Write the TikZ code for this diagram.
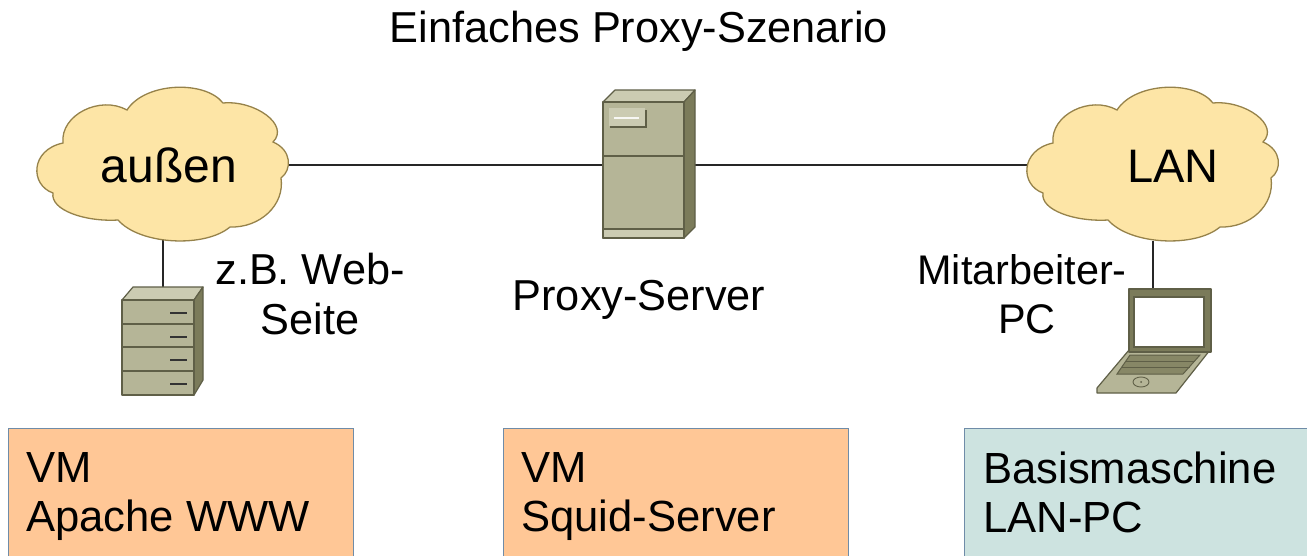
\documentclass[tikz,border=0pt]{standalone}
\usepackage{fontspec}
\setmainfont{Liberation Sans}
\definecolor{cloudfill}{HTML}{FDE5A6}
\definecolor{cloudline}{HTML}{96824A}
\definecolor{hwfront}{HTML}{B5B597}
\definecolor{hwtop}{HTML}{CBCBB2}
\definecolor{hwside}{HTML}{7B7B5A}
\definecolor{hwline}{HTML}{5F5F47}
\definecolor{vmfill}{HTML}{FFC796}
\definecolor{basefill}{HTML}{CDE3E0}
\definecolor{boxline}{HTML}{6F8CA8}
\tikzset{
  x=1pt,y=-1pt,
  cloudshape/.style={fill=cloudfill,draw=cloudline,line width=1.3pt},
  hw/.style={draw=hwline,line width=1.2pt,line join=round},
  link/.style={draw=black!85,line width=1.2pt},
  lbl/.style={font=\fontsize{43.3}{49.5}\selectfont,inner sep=0pt,align=center},
  pclblstyle/.style={font=\fontsize{41.4}{49.5}\selectfont,inner sep=0pt,align=center},
  cloudlbl/.style={font=\fontsize{48}{50}\selectfont,inner sep=0pt},
  boxlbl/.style={font=\fontsize{43.6}{49}\selectfont,inner sep=0pt,align=left,anchor=north west},
  hostbox/.style={draw=boxline,line width=1.2pt,rectangle,anchor=north west,inner sep=0pt,minimum width=345pt,minimum height=200pt},
  pics/cloud/.style={code={
    \path[cloudshape] (63,143) .. controls (60,115) and (100,95) .. (127,110)
      .. controls (145,82) and (205,80) .. (223,103)
      .. controls (255,100) and (290,125) .. (273,142)
      .. controls (292,150) and (292,170) .. (281,178)
      .. controls (285,205) and (260,228) .. (230,227)
      .. controls (205,248) and (140,245) .. (118,220)
      .. controls (85,222) and (50,210) .. (53,193)
      .. controls (30,185) and (30,150) .. (63,143) -- cycle;
  }}
}
\begin{document}
\begin{tikzpicture}
\path[use as bounding box,clip] (0,0) rectangle (1307,555);
\fill[white] (0,0) rectangle (1307,555);

% anchor points
\coordinate (cloudAe) at (288,165);
\coordinate (cloudAs) at (163,240);
\coordinate (cloudBw) at (1028,165);
\coordinate (cloudBs) at (1153,241);
\coordinate (proxyW) at (603,165);
\coordinate (proxyE) at (695,165);
\coordinate (webN) at (163,287);
\coordinate (laptopN) at (1153,289);

% connectors
\draw[link] (cloudAe) -- (proxyW);
\draw[link] (proxyE) -- (cloudBw);
\draw[link] (cloudAs) -- (webN);
\draw[link] (cloudBs) -- (laptopN);

% clouds
\pic at (0,0) {cloud};
\pic at (990,0) {cloud};

% proxy server
\path[hw,fill=hwtop] (603,102) -- (615,90) -- (695,90) -- (684,102) -- cycle;
\path[hw,fill=hwside] (684,102) -- (695,90) -- (695,227) -- (684,238) -- cycle;
\path[hw,fill=hwfront] (603,102) rectangle (684,238);
\draw[hw] (603,156) -- (684,156);
\path[hw,fill=hwtop] (603,229) rectangle (684,238);
\fill[hwline] (610,110) rectangle (647,128);
\fill[hwtop] (609,108) rectangle (645,126);
\draw[white!85!hwtop,line width=1.5pt] (614,118) -- (639,118);

% web server
\path[hw,fill=hwtop] (122,300) -- (133,287) -- (203,287) -- (194,300) -- cycle;
\path[hw,fill=hwside] (194,300) -- (203,287) -- (203,380) -- (194,395) -- cycle;
\path[hw,fill=hwfront] (122,300) rectangle (194,395);
\draw[hw] (122,324) -- (194,324) (122,347) -- (194,347) (122,371) -- (194,371);
\draw[black!80,line width=1.3pt] (170,313) -- (187,313) (170,337) -- (187,337) (170,360) -- (187,360) (170,384) -- (187,384);

% laptop
\path[hw,fill=hwfront] (1129,350) -- (1210,350) -- (1176,393) -- (1097,393) -- (1097,388) -- cycle;
\path[draw=hwline,line width=1pt,fill=hwside!80!hwfront] (1130,355) -- (1200,355) -- (1183,374) -- (1117,374) -- cycle;
\draw[hwline,line width=.8pt] (1126,361) -- (1195,361) (1122,367) -- (1190,367);
\draw[hwline,line width=.9pt] (1141,382) ellipse [x radius=8,y radius=5];
\fill[hwline] (1141,382) circle [radius=1];
\path[hw,fill=hwside] (1129,289) rectangle (1211,352);
\path[draw=hwline,line width=1.4pt,fill=white] (1134,297) rectangle (1204,347);

% host boxes
\node[hostbox,fill=vmfill] (boxA) at (8,428) {};
\node[hostbox,fill=vmfill] (boxB) at (503,428) {};
\node[hostbox,fill=basefill] (boxC) at (964,428) {};

% labels
\node[lbl,anchor=base] (title) at (639,42) {Einfaches Proxy-Szenario};
\node[cloudlbl,anchor=base] (aussen) at (169,182) {außen};
\node[font=\fontsize{47}{50}\selectfont,inner sep=0pt,anchor=base] (lan) at (1173,182) {LAN};
\node[lbl] (weblbl) at (310,294) {z.B. Web-\\Seite};
\node[lbl,anchor=base] (proxylbl) at (639,310) {Proxy-Server};
\node[pclblstyle] (pclbl) at (1022,294) {Mitarbeiter-\\\hspace{10pt}PC};
\node[boxlbl] (tA) at (26,452) {VM\\Apache WWW};
\node[boxlbl] (tB) at (521,452) {VM\\Squid-Server};
\node[boxlbl] (tC) at (983,452) {Basismaschine\\LAN-PC};
\end{tikzpicture}
\end{document}
